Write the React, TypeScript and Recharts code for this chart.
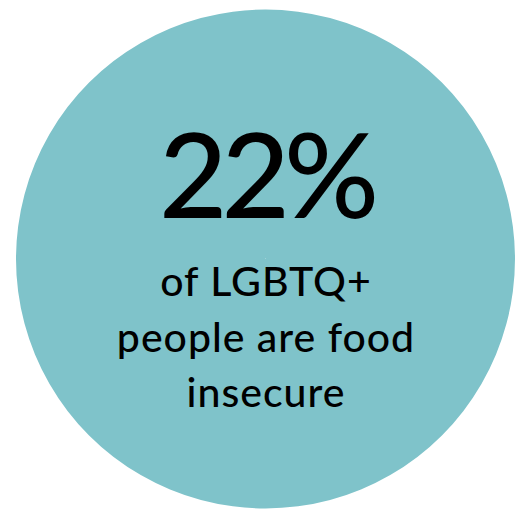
import { PieChart, Pie, Cell, Label } from "recharts";

const shares = [{ name: "LGBTQ+ people", value: 22 }];
const headline = "22%";
const captionLines = ["of LGBTQ+", "people are food", "insecure"];

// text is placed on absolute baselines, centred on the circle
const CircleText = ({ viewBox }: any) => {
  const cx = viewBox?.cx ?? 265;
  return (
    <g fontFamily="Lato, sans-serif" fontWeight={500} fill="#000">
      <text x={cx + 1} y={218} textAnchor="middle" fontSize={118} letterSpacing={-6}>
        {headline}
      </text>
      {captionLines.map((line, i) => (
        <text
          key={line}
          x={cx + 1}
          y={296 + i * 55.5}
          textAnchor="middle"
          fontSize={41}
          letterSpacing={1}
        >
          {line}
        </text>
      ))}
    </g>
  );
};

export default function App() {
  return (
    <div style={{ position: "absolute", left: 0, top: 0 }}>
      <PieChart width={522} height={511} margin={{ top: 0, right: 0, bottom: 0, left: 0 }}>
        <Pie
          data={shares}
          dataKey="value"
          nameKey="name"
          cx={265.5}
          cy={259}
          innerRadius={0}
          outerRadius={249.5}
          startAngle={90}
          endAngle={-270}
          stroke="none"
          isAnimationActive={false}
        >
          <Cell fill="#7fc3ca" />
          <Label position="center" content={<CircleText />} />
        </Pie>
      </PieChart>
    </div>
  );
}
